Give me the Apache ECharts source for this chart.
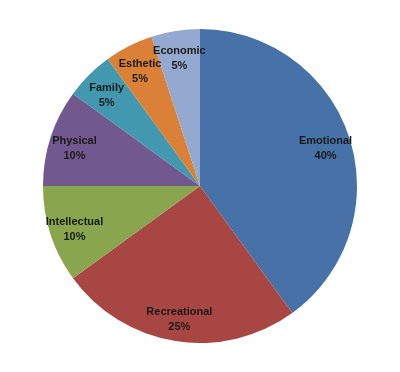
<!DOCTYPE html>
<html>
<head>
<meta charset="utf-8">
<script src="https://cdn.jsdelivr.net/npm/echarts@6/dist/echarts.min.js"></script>
<style>html,body{margin:0;padding:0;background:#fff}#c{width:400px;height:372px}</style>
</head>
<body>
<div id="c"></div>
<script>
const categories = ["Emotional", "Recreational", "Intellectual", "Physical", "Family", "Esthetic", "Economic"];
const values = [40, 25, 10, 10, 5, 5, 5];
const colors = ["#4672A8", "#A84644", "#89A54E", "#71588F", "#4298AF", "#DA8137", "#93A9CF"];

const chart = echarts.init(document.getElementById('c'));
const data = categories.map((n, i) => ({ name: n, value: values[i], itemStyle: { color: colors[i] } }));
const labelData = categories.map((n, i) => ({ name: n, value: values[i] }));
chart.setOption({
  animation: false,
  series: [
    {
      type: 'pie',
      center: [200, 186],
      radius: [0, 157],
      startAngle: 90,
      clockwise: true,
      silent: true,
      label: { show: false },
      labelLine: { show: false },
      itemStyle: { borderWidth: 0 },
      data: data
    },
    {
      type: 'pie',
      center: [200, 189],
      radius: [0, 258],
      startAngle: 90,
      clockwise: true,
      silent: true,
      avoidLabelOverlap: false,
      itemStyle: { color: 'rgba(0,0,0,0)', borderWidth: 0 },
      labelLayout: { hideOverlap: false },
      label: {
        show: true,
        position: 'inside',
        overflow: 'none',
        formatter: p => p.name + '\n' + p.value + '%',
        fontFamily: 'Liberation Sans, Arial, sans-serif',
        fontWeight: 'bold',
        fontSize: 11,
        lineHeight: 15,
        color: '#1a1a1a',
        align: 'center'
      },
      labelLine: { show: false },
      data: labelData
    }
  ]
});
</script>
</body>
</html>
